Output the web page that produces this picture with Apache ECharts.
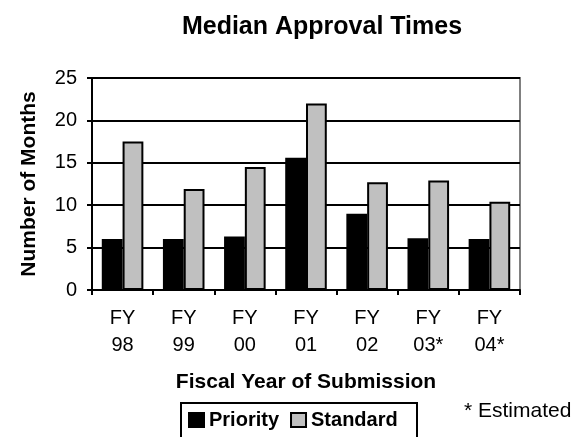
<!DOCTYPE html>
<html>
<head>
<meta charset="utf-8">
<script src="https://cdn.jsdelivr.net/npm/echarts@6/dist/echarts.min.js"></script>
<style>html,body{margin:0;padding:0;background:#fff;}#c{width:576px;height:437px;}</style>
</head>
<body>
<div id="c"></div>
<script>
var categories = ['FY\n98', 'FY\n99', 'FY\n00', 'FY\n01', 'FY\n02', 'FY\n03*', 'FY\n04*'];
var priority = [6.0, 6.0, 6.3, 15.6, 9.0, 6.1, 6.0];
var standard = [17.5, 11.9, 14.5, 22.0, 12.7, 12.9, 10.4];
var yTicks = [0, 5, 10, 15, 20, 25];

var font = 'Arial, "Liberation Sans", sans-serif';
var chart = echarts.init(document.getElementById('c'), null, {renderer: 'canvas'});
chart.setOption({
  animation: false,
  backgroundColor: '#fff',
  title: {
    text: 'Median Approval Times',
    left: 317, top: 10, textAlign: 'center',
    textStyle: {fontFamily: font, fontWeight: 'bold', fontSize: 25, color: '#000'}
  },
  grid: {left: 92, right: 56, top: 78, bottom: 147, show: true, borderColor: '#808080', borderWidth: 2, backgroundColor: 'transparent'},
  legend: {
    left: 188, top: 410, itemWidth: 15, itemHeight: 14, itemGap: 11, padding: 0,
    icon: 'rect',
    textStyle: {fontFamily: font, fontWeight: 'bold', fontSize: 20, color: '#000'},
    data: ['Priority', 'Standard']
  },
  xAxis: {
    type: 'category', data: categories,
    name: 'Fiscal Year of Submission', nameLocation: 'middle', nameGap: 82,
    nameTextStyle: {fontFamily: font, fontWeight: 'bold', fontSize: 21, color: '#000'},
    axisLine: {show: true, lineStyle: {color: '#000', width: 2}},
    axisTick: {show: true, length: 5, lineStyle: {color: '#000', width: 2}},
    axisLabel: {fontFamily: font, fontSize: 20, color: '#000', lineHeight: 27, margin: 15}
  },
  yAxis: {
    type: 'value', min: yTicks[0], max: yTicks[yTicks.length - 1], interval: 5,
    name: 'Number of Months', nameLocation: 'middle', nameGap: 52,
    nameTextStyle: {fontFamily: font, fontWeight: 'bold', fontSize: 21, color: '#000'},
    axisLine: {show: true, lineStyle: {color: '#000', width: 2}},
    axisTick: {show: true, length: 5, lineStyle: {color: '#000', width: 2}},
    axisLabel: {fontFamily: font, fontSize: 20, color: '#000', margin: 15},
    splitLine: {show: true, lineStyle: {color: '#000', width: 2}}
  },
  series: [
    {name: 'Priority', type: 'bar', data: priority, barGap: '0%', barCategoryGap: '32%',
     itemStyle: {color: '#000', borderColor: '#000', borderWidth: 2}},
    {name: 'Standard', type: 'bar', data: standard,
     itemStyle: {color: '#c0c0c0', borderColor: '#000', borderWidth: 2}}
  ],
  graphic: [
    {type: 'rect', shape: {x: 181, y: 403, width: 236, height: 60}, style: {fill: 'none', stroke: '#000', lineWidth: 2}, z: 10},
    {type: 'text', left: 464, top: 401, style: {
      text: '* Estimated', fontFamily: font, fontSize: 21, fill: '#000'
    }}
  ]
});
</script>
</body>
</html>
